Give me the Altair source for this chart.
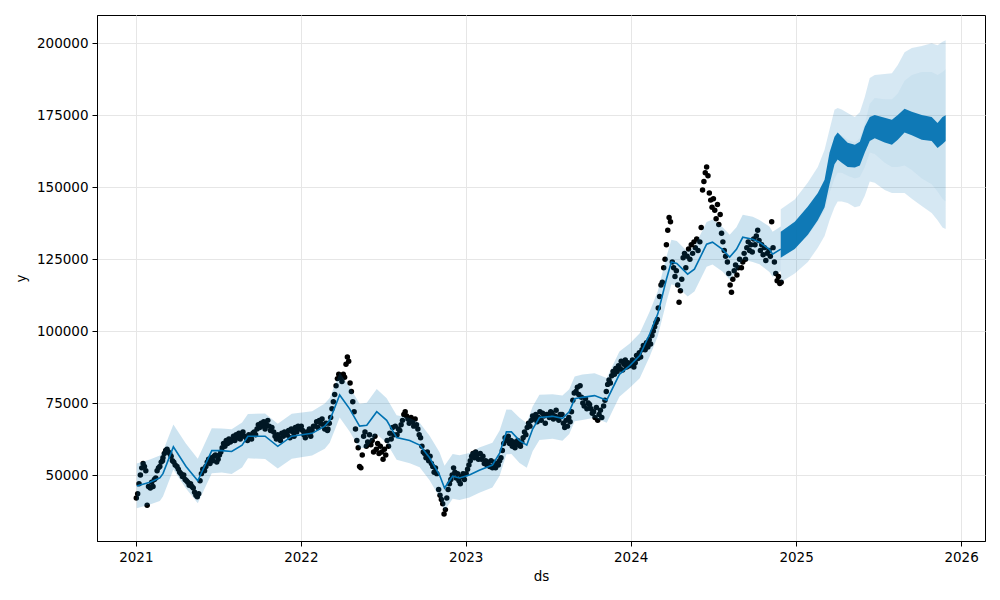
import altair as alt
import pandas as pd

# ---------------- data (values in thousands) ----------------
obs_first_month = "2021-01-01"
obs_days = [2, 5, 8, 11, 14, 17, 20, 23, 26, 29]
obs_values = [
    [42, 43.5, 47, 50, 52.5, 54, 53, 51.5, 39.5, 46],
    [45.5, 47.5, 46, 48.5, 49, 51.5, 52.5, 53, 54.5, 55],
    [56, 57.5, 58.5, 59, 58, 57.5, 56.5, 55, 54.5, 53.5],
    [53, 52, 51, 50.5, 49.5, 50, 48.5, 48, 47.5, 46.5],
    [47, 46, 45.5, 44, 43, 42.5, 43.5, 48, 50.5, 52],
    [51.5, 53, 54.5, 55.5, 54, 56, 55, 56.5, 57, 54.5],
    [55.5, 57, 58, 59.5, 61, 60, 62, 61, 62.5, 61.5],
    [62, 63.5, 62, 64, 63, 64.5, 62.5, 64, 65, 63.5],
    [63, 62, 64, 63.5, 62.5, 64.5, 65, 64, 66, 67.5],
    [66.5, 68, 67, 68.5, 66, 67.5, 69, 67, 65.5, 66.5],
    [65, 63.5, 62.5, 64, 63, 62, 64.5, 63.5, 65, 64],
    [64, 65.5, 63, 66, 65, 63.5, 66.5, 65, 67, 66],
    [67, 65.5, 64, 63, 65, 64.5, 66, 63.5, 65.5, 67],
    [67, 68.5, 66.5, 69, 68, 69.5, 67.5, 66, 68, 65.5],
    [66, 68, 70, 73, 75.5, 78, 81, 83.5, 85, 84],
    [82.5, 85, 84, 88.5, 91, 89.5, 82, 79, 75.5, 72],
    [66, 62, 59.5, 53, 52.5, 57, 63.5, 65, 60, 61.5],
    [64, 60.5, 62, 58, 63.5, 59, 61, 57.5, 60, 58],
    [55.5, 59, 57, 62, 60, 64.5, 62.5, 66.5, 64, 67],
    [64, 66, 65.5, 67.5, 69, 71, 72, 70.5, 69.5, 68],
    [70, 68.5, 67, 69.5, 67.5, 66, 64, 63, 60, 58],
    [57.5, 56, 58, 55, 56.5, 54, 53, 51, 52.5, 50.5],
    [45, 43, 41.5, 40, 36.5, 38, 42, 45, 47, 48.5],
    [50, 52.5, 51, 49, 50.5, 48, 47, 49.5, 50.5, 48.5],
    [50.5, 52, 53.5, 55, 56.5, 57.5, 56, 58, 57, 55.5],
    [57.5, 55.5, 56.5, 54, 55, 53.5, 54.5, 53, 55, 52.5],
    [53, 54.5, 52.5, 54, 53.5, 55, 56, 58.5, 61, 63],
    [62, 63.5, 61, 62, 60, 61.5, 59.5, 60.5, 62, 61],
    [60, 61.5, 63, 65, 64, 66.5, 68, 67, 69, 70.5],
    [69.5, 71, 68.5, 70, 72, 69, 71.5, 70.5, 68, 71],
    [71, 70, 72, 71.5, 69.5, 70.5, 72.5, 70, 69, 71],
    [71, 68, 66.5, 69, 67, 70, 68.5, 72, 76, 78.5],
    [79, 80.5, 78, 81, 77, 75, 74, 76.5, 73, 75],
    [74.5, 73, 71.5, 72, 70, 73.5, 69, 71, 72.5, 70],
    [74, 76, 79, 81.5, 83, 82, 84.5, 86, 85, 87],
    [86, 88, 87, 89.5, 86.5, 88.5, 90, 87.5, 89, 88],
    [88.5, 90, 87.5, 89, 91.5, 90.5, 92.5, 91, 93.5, 95],
    [93.5, 96, 94.5, 97, 95.5, 98.5, 100, 101.5, 103, 104],
    [108, 112, 116, 117, 122, 125, 130, 135, 139.5, 138],
    [124, 122, 119, 121, 116, 110, 114, 118, 125.5, 127],
    [122, 126, 128.5, 125, 130, 127, 131, 129, 132, 128],
    [131, 136, 149, 152, 155, 157, 154, 148, 145.5, 143],
    [146, 142, 139, 144, 137, 140.5, 134, 131, 128, 126],
    [124, 120, 116, 113.5, 118, 121, 123, 119.5, 122, 125],
    [122, 124, 127, 125, 129, 131, 128, 130, 127.5, 132],
    [130, 133, 135, 131.5, 128, 130, 126.5, 129, 124.5, 127],
    [128, 126, 138, 129, 124, 120, 117.5, 119, 116.5, 117],
]

hist_dates = [
    "2021-01-03", "2021-02-01", "2021-02-23", "2021-03-02", "2021-03-25", "2021-04-22", "2021-05-18",
    "2021-06-18", "2021-07-10", "2021-08-01", "2021-08-24", "2021-09-06", "2021-10-14", "2021-11-11",
    "2021-12-12", "2022-01-26", "2022-02-23", "2022-03-06", "2022-03-28", "2022-04-19", "2022-05-11",
    "2022-05-27", "2022-06-18", "2022-07-10", "2022-08-01", "2022-08-30", "2022-09-21", "2022-10-13",
    "2022-11-04", "2022-11-15", "2022-12-03", "2022-12-18", "2023-01-09", "2023-01-31", "2023-03-01",
    "2023-03-17", "2023-04-01", "2023-04-12", "2023-04-30", "2023-05-16", "2023-05-29", "2023-06-13",
    "2023-07-12", "2023-08-03", "2023-08-18", "2023-08-30", "2023-09-16", "2023-10-13", "2023-11-09",
    "2023-12-07", "2023-12-30", "2024-01-21", "2024-02-12", "2024-03-01", "2024-03-20", "2024-03-31",
    "2024-04-12", "2024-05-06", "2024-05-21", "2024-06-17", "2024-06-30", "2024-07-22", "2024-08-07",
    "2024-08-22", "2024-09-05", "2024-09-27", "2024-10-12", "2024-11-03", "2024-11-10", "2024-11-28",
]
hist_yhat = [
    46.2, 47.5, 49.0, 50.5, 59.8, 53.0, 48.0, 58.5, 58.5, 58.2, 60.4, 63.5, 63.5, 60.0,
    63.5, 64.5, 67.0, 69.0, 77.8, 73.0, 67.0, 67.3, 72.0, 69.0, 63.0, 62.0, 60.4, 56.0,
    50.0, 45.5, 49.6, 49.0, 50.0, 51.7, 53.5, 57.6, 65.0, 65.0, 62.0, 60.4, 66.0, 70.0,
    70.4, 69.7, 72.0, 76.5, 77.0, 77.6, 76.0, 85.0, 88.0, 91.5, 99.0, 106.0, 118.0, 124.0,
    123.5, 119.8, 121.5, 130.2, 130.9, 128.4, 125.7, 128.4, 132.6, 131.9, 130.9, 128.4, 126.7, 128.5,
]
hist_lower = [
    38.5, 39.8, 41.0, 42.6, 51.9, 45.3, 40.2, 50.6, 50.9, 50.4, 52.6, 55.8, 55.6, 52.3,
    55.7, 56.8, 59.1, 61.2, 70.0, 65.1, 59.3, 59.5, 64.2, 61.1, 55.3, 54.1, 52.7, 48.2,
    42.3, 37.7, 41.8, 41.3, 42.2, 43.9, 45.7, 49.8, 57.2, 57.3, 54.2, 52.5, 58.3, 62.2,
    62.6, 61.9, 64.3, 68.7, 69.1, 69.9, 68.2, 77.2, 80.3, 83.6, 91.2, 98.3, 110.1, 116.3,
    115.6, 112.0, 113.8, 122.4, 123.1, 120.7, 117.8, 120.6, 124.9, 124.0, 123.2, 120.5, 118.9, 120.8,
]
hist_upper = [
    54.0, 55.4, 56.8, 58.3, 67.6, 60.9, 55.7, 66.3, 66.2, 65.9, 68.3, 71.2, 71.4, 67.8,
    71.3, 72.2, 74.9, 76.8, 85.6, 80.7, 74.8, 75.1, 79.9, 76.7, 70.8, 69.8, 68.2, 63.7,
    57.9, 53.2, 57.3, 56.9, 57.7, 59.6, 61.2, 65.5, 72.8, 72.7, 69.9, 68.1, 73.8, 77.9,
    78.1, 77.6, 79.8, 84.2, 84.9, 85.4, 83.7, 92.9, 95.7, 99.3, 106.8, 113.9, 125.8, 131.7,
    131.3, 127.6, 129.4, 137.9, 138.8, 136.2, 133.5, 136.1, 140.4, 139.7, 138.6, 136.3, 134.5, 136.3,
]

fc_dates = [
    "2024-11-28", "2024-12-29", "2025-01-27", "2025-02-18", "2025-03-05", "2025-03-16", "2025-03-27",
    "2025-04-03", "2025-04-12", "2025-04-25", "2025-05-11", "2025-05-22", "2025-06-02", "2025-06-13",
    "2025-06-24", "2025-07-16", "2025-08-01", "2025-08-14", "2025-08-29", "2025-09-14", "2025-10-06",
    "2025-10-28", "2025-11-10", "2025-11-21", "2025-11-28",
]
fc_yhat_high = [
    134.5, 138.0, 143.3, 148.0, 152.6, 162.0, 167.5, 169.0, 167.5, 165.4, 164.7, 165.8, 171.0,
    174.4, 175.1, 174.1, 173.4, 175.1, 177.2, 176.2, 175.1, 174.4, 172.3, 174.4, 175.0,
]
fc_yhat_low = [
    125.5, 128.5, 133.5, 138.5, 143.0, 151.0, 158.0, 159.6, 158.5, 157.0, 156.8, 157.5, 162.0,
    166.0, 167.0, 165.5, 164.7, 166.5, 169.0, 168.0, 166.5, 166.0, 163.6, 165.0, 166.0,
]
fc_upper_outer = [
    142.3, 145.7, 151.6, 157.0, 163.0, 170.0, 176.9, 177.5, 177.0, 175.8, 174.4, 176.0, 181.3,
    187.9, 189.0, 189.3, 189.6, 192.4, 196.9, 198.3, 199.0, 200.0, 199.3, 200.5, 201.0,
]
fc_upper_inner = [
    134.0, 137.0, 142.0, 147.0, 152.0, 160.0, 167.0, 168.5, 168.0, 166.5, 165.5, 167.0, 172.0,
    179.0, 181.0, 180.5, 180.5, 182.5, 187.0, 189.0, 190.0, 190.0, 189.0, 190.0, 191.0,
]
fc_lower_inner = [
    126.0, 129.0, 133.0, 138.0, 142.0, 148.0, 153.0, 155.0, 155.0, 154.0, 153.0, 153.5, 157.0,
    162.0, 161.5, 158.5, 157.0, 157.0, 157.5, 156.0, 153.0, 151.0, 148.5, 146.0, 145.0,
]
fc_lower_outer = [
    117.0, 120.0, 124.0, 129.0, 133.0, 138.5, 143.0, 145.0, 145.0, 144.5, 143.0, 143.5, 147.0,
    152.0, 151.5, 149.0, 148.0, 148.0, 148.0, 146.0, 143.5, 141.0, 138.5, 136.0, 135.5,
]

year_ticks = [2021, 2022, 2023, 2024, 2025, 2026]
y_ticks = [50000, 75000, 100000, 125000, 150000, 175000, 200000]

# ---------------- tables ----------------
rows = []
start = pd.Timestamp(obs_first_month)
for m, vals in enumerate(obs_values):
    month_start = start + pd.DateOffset(months=m)
    for d, v in zip(obs_days, vals):
        rows.append({"ds": month_start + pd.Timedelta(days=d - 1), "y": v * 1000})
obs = pd.DataFrame(rows)

hist = pd.DataFrame({
    "ds": pd.to_datetime(hist_dates),
    "yhat": [v * 1000 for v in hist_yhat],
    "lo": [v * 1000 for v in hist_lower],
    "hi": [v * 1000 for v in hist_upper],
})
fc = pd.DataFrame({
    "ds": pd.to_datetime(fc_dates),
    "yh": [v * 1000 for v in fc_yhat_high],
    "yl": [v * 1000 for v in fc_yhat_low],
    "uo": [v * 1000 for v in fc_upper_outer],
    "ui": [v * 1000 for v in fc_upper_inner],
    "li": [v * 1000 for v in fc_lower_inner],
    "lo": [v * 1000 for v in fc_lower_outer],
})

BLUE = "#0072B2"
x_scale = alt.Scale(domain=[alt.DateTime(year=2020, month=10, date=7),
                            alt.DateTime(year=2026, month=2, date=23)])
y_scale = alt.Scale(domain=[27100, 209800], nice=False, zero=False)
x_axis = alt.Axis(title="ds", values=[alt.DateTime(year=y, month=1, date=1) for y in year_ticks],
                  format="%Y", grid=True, labelFlush=False)
y_axis = alt.Axis(title="y", values=y_ticks, format="d", grid=True)

X = alt.X("ds:T", scale=x_scale, axis=x_axis)

points = alt.Chart(obs).mark_circle(size=30, color="black", opacity=1).encode(
    x=X, y=alt.Y("y:Q", scale=y_scale, axis=y_axis))

line = alt.Chart(hist).mark_line(color=BLUE, strokeWidth=1.6).encode(
    x=X, y=alt.Y("yhat:Q", scale=y_scale, axis=y_axis))

band_hist = alt.Chart(hist).mark_area(color=BLUE, opacity=0.2).encode(
    x=X, y=alt.Y("lo:Q", scale=y_scale, axis=y_axis), y2="hi:Q")

fc_dark = alt.Chart(fc).mark_area(color=BLUE, opacity=0.92).encode(
    x=X, y=alt.Y("yl:Q", scale=y_scale, axis=y_axis), y2="yh:Q")

fc_outer = alt.Chart(fc).mark_area(color=BLUE, opacity=0.16).encode(
    x=X, y=alt.Y("lo:Q", scale=y_scale, axis=y_axis), y2="uo:Q")

fc_inner = alt.Chart(fc).mark_area(color=BLUE, opacity=0.05).encode(
    x=X, y=alt.Y("li:Q", scale=y_scale, axis=y_axis), y2="ui:Q")

chart = alt.layer(points, line, fc_dark, band_hist, fc_outer, fc_inner).properties(
    width=888, height=526,
    padding={"left": 97, "top": 15, "right": 15, "bottom": 59},
    autosize=alt.AutoSizeParams(type="none"),
    background="white",
).configure_axis(
    labelFont="DejaVu Sans", labelFontSize=13.5, labelColor="black",
    titleFont="DejaVu Sans", titleFontSize=13.5, titleFontWeight="normal", titleColor="black",
    tickColor="black", tickSize=5, tickWidth=1, domainColor="black", domainWidth=1,
    gridColor="#e6e6e6", gridWidth=1, labelPadding=4,
).configure_axisX(titlePadding=6).configure_axisY(titlePadding=8).configure_view(
    stroke="black", strokeWidth=1)

chart.save("out.html", embed_options={"renderer": "svg", "actions": False})
